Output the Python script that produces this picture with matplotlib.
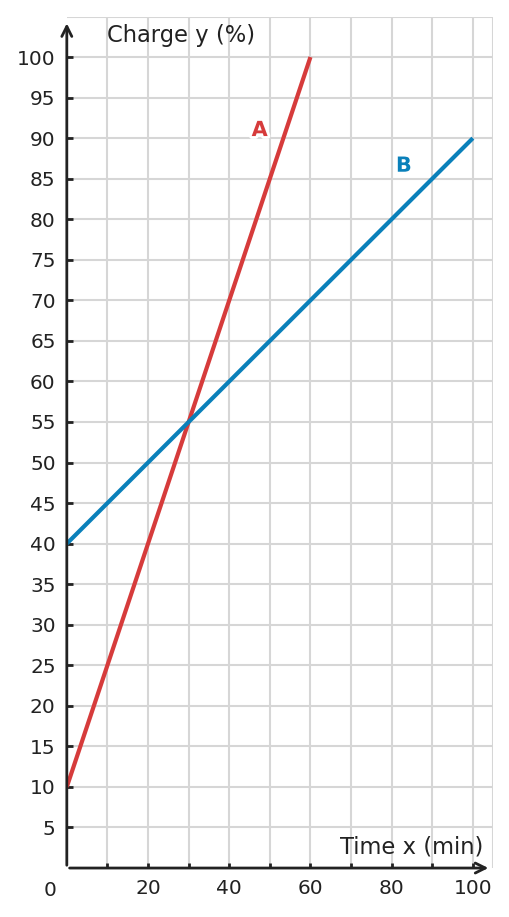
import numpy as np
import matplotlib.pyplot as plt
import matplotlib.patheffects as pe

plt.rcParams["font.family"] = ["DejaVu Sans"]

# data
time_a = [0, 60]
charge_a = [10, 100]
time_b = [0, 100]
charge_b = [40, 90]

x_ticks = [20, 40, 60, 80, 100]
y_ticks = list(range(5, 101, 5))

red = "#d63b3b"
blue = "#0a80ba"
dark = "#222222"

fig = plt.figure(figsize=(5.1, 9.17), dpi=100)
ax = fig.add_axes([0.131, 0.0534, 0.836, 0.9286])
ax.set_xlim(0, 105)
ax.set_ylim(0, 105)

# grid
for gx in range(10, 101, 10):
    ax.axvline(gx, color="#d6d6d6", lw=1.5, zorder=0)
ax.axvline(105, color="#d6d6d6", lw=1.5, zorder=0)
for gy in range(5, 106, 5):
    ax.axhline(gy, color="#d6d6d6", lw=1.5, zorder=0)

ax.plot(time_a, charge_a, color=red, lw=3, solid_capstyle="butt", zorder=3)
ax.plot(time_b, charge_b, color=blue, lw=3, solid_capstyle="butt", zorder=3)

halo = [pe.withStroke(linewidth=4, foreground="white")]
ax.text(47.5, 91, "A", color=red, fontsize=15, fontweight="bold",
        ha="center", va="center", path_effects=halo, zorder=4)
ax.text(83, 86.6, "B", color=blue, fontsize=15, fontweight="bold",
        ha="center", va="center", path_effects=halo, zorder=4)

for s in ["top", "right", "left", "bottom"]:
    ax.spines[s].set_visible(False)

# axes with arrows
ax.annotate("", xy=(104.5, 0), xytext=(0, 0),
            arrowprops=dict(arrowstyle="->", color=dark, lw=2, mutation_scale=18),
            annotation_clip=False, zorder=5)
ax.annotate("", xy=(0, 104.5), xytext=(0, 0),
            arrowprops=dict(arrowstyle="->", color=dark, lw=2, mutation_scale=18),
            annotation_clip=False, zorder=5)

ax.set_xticks(range(10, 101, 10))
ax.set_xticklabels([str(v) if v in x_ticks else "" for v in range(10, 101, 10)])
ax.set_yticks(y_ticks)
ax.set_yticklabels([str(v) for v in y_ticks])
ax.tick_params(axis="both", direction="in", length=4, width=2, color=dark,
               labelcolor=dark, labelsize=14.5)
ax.tick_params(axis="x", length=3.5)
ax.tick_params(axis="y", pad=8)
ax.tick_params(axis="x", pad=8)
ax.text(-4.2, -1.6, "0", fontsize=14.5, color=dark, ha="center", va="top")

ax.text(10, 102.6, "Charge y (%)", fontsize=16.3, color=dark, ha="left", va="center")
ax.text(102.5, 2.6, "Time x (min)", fontsize=16.3, color=dark, ha="right", va="center")

fig.savefig("out.png", dpi=100)
